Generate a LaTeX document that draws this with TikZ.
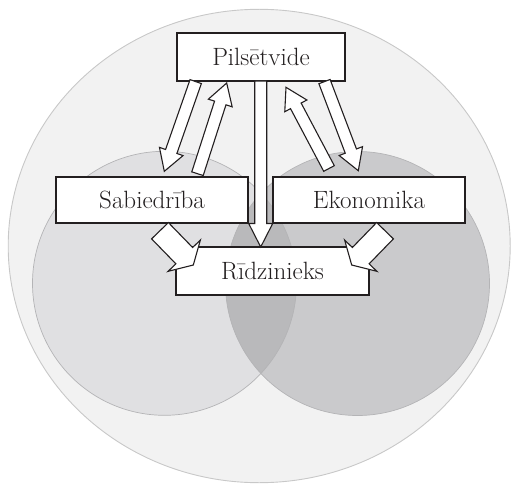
\documentclass[tikz,border=0pt]{standalone}
\usetikzlibrary{calc}
\definecolor{outerfill}{HTML}{F2F2F2}
\definecolor{outerline}{HTML}{C8C8C8}
\definecolor{leftfill}{HTML}{E0E0E2}
\definecolor{rightfill}{HTML}{CACACC}
\definecolor{overlapfill}{HTML}{B9B9BB}
\definecolor{circline}{HTML}{B4B4B6}
\definecolor{ink}{HTML}{231F20}
\tikzset{
  box/.style={draw=ink, line width=1.2pt, fill=white, inner sep=0pt,
    font=\fontsize{25}{30}\selectfont, text=ink},
  barrow/.style={draw=ink, line width=1.1pt, fill=white, line join=miter}
}
% name, from, to, half shaft, half head, head length
\newcommand\blockarr[6]{%
  \coordinate (#1b) at ($(#3)!#6!(#2)$);
  \draw[barrow] ($(#2)!#4!90:(#3)$) -- ($(#1b)!#4!90:(#3)$) -- ($(#1b)!#5!90:(#3)$)
    -- (#3) -- ($(#1b)!#5!-90:(#3)$) -- ($(#1b)!#4!-90:(#3)$) -- ($(#2)!#4!-90:(#3)$) -- cycle;
}
\begin{document}
\begin{tikzpicture}[x=1pt,y=-1pt]
\useasboundingbox (0,0) rectangle (511,484);
% circles
\draw[fill=outerfill, draw=outerline, line width=0.9pt] (259.2,246) ellipse [x radius=251, y radius=236.7];
\fill[leftfill] (164.5,283.3) circle [radius=132];
\fill[rightfill] (357.5,283.5) circle [radius=132];
\begin{scope}
  \clip (164.5,283.3) circle [radius=132];
  \fill[overlapfill] (357.5,283.5) circle [radius=132];
\end{scope}
\draw[circline, line width=0.7pt] (164.5,283.3) circle [radius=132];
\draw[circline, line width=0.7pt] (357.5,283.5) circle [radius=132];
% boxes
\node[box, minimum width=168pt, minimum height=48pt] (P) at (261,57) {Pilsētvide};
\node[box, minimum width=192pt, minimum height=46pt] (S) at (152,200) {Sabiedrība};
\node[box, minimum width=192pt, minimum height=46pt] (E) at (369,200) {Ekonomika};
\node[box, minimum width=193pt, minimum height=48pt] (R) at (272.5,271) {Rīdzinieks};
% arrow end points
\coordinate (a1s) at (195.7,81.6);  \coordinate (a1e) at (164.3,171.3);
\coordinate (a2s) at (197.5,173.7); \coordinate (a2e) at (226.7,83);
\coordinate (a3s) at (329,168.5);   \coordinate (a3e) at (286,87.3);
\coordinate (a4s) at (324.5,81.6);  \coordinate (a4e) at (358.3,170.7);
\coordinate (a5s) at (260.7,81);    \coordinate (a5e) at (260.7,247);
\coordinate (a6s) at (160,230.7);   \coordinate (a6e) at (193.3,265);
\coordinate (a7s) at (385,230.7);   \coordinate (a7e) at (351.7,265);
\blockarr{a1}{a1s}{a1e}{6pt}{12.5pt}{21pt}
\blockarr{a2}{a2s}{a2e}{6pt}{12.5pt}{21pt}
\blockarr{a3}{a3s}{a3e}{6pt}{12.5pt}{21pt}
\blockarr{a4}{a4s}{a4e}{6pt}{12.5pt}{21pt}
\blockarr{a5}{a5s}{a5e}{6pt}{12pt}{23.5pt}
\blockarr{a6}{a6s}{a6e}{11.7pt}{22.5pt}{13pt}
\blockarr{a7}{a7s}{a7e}{11.7pt}{22.5pt}{13pt}
\end{tikzpicture}
\end{document}
